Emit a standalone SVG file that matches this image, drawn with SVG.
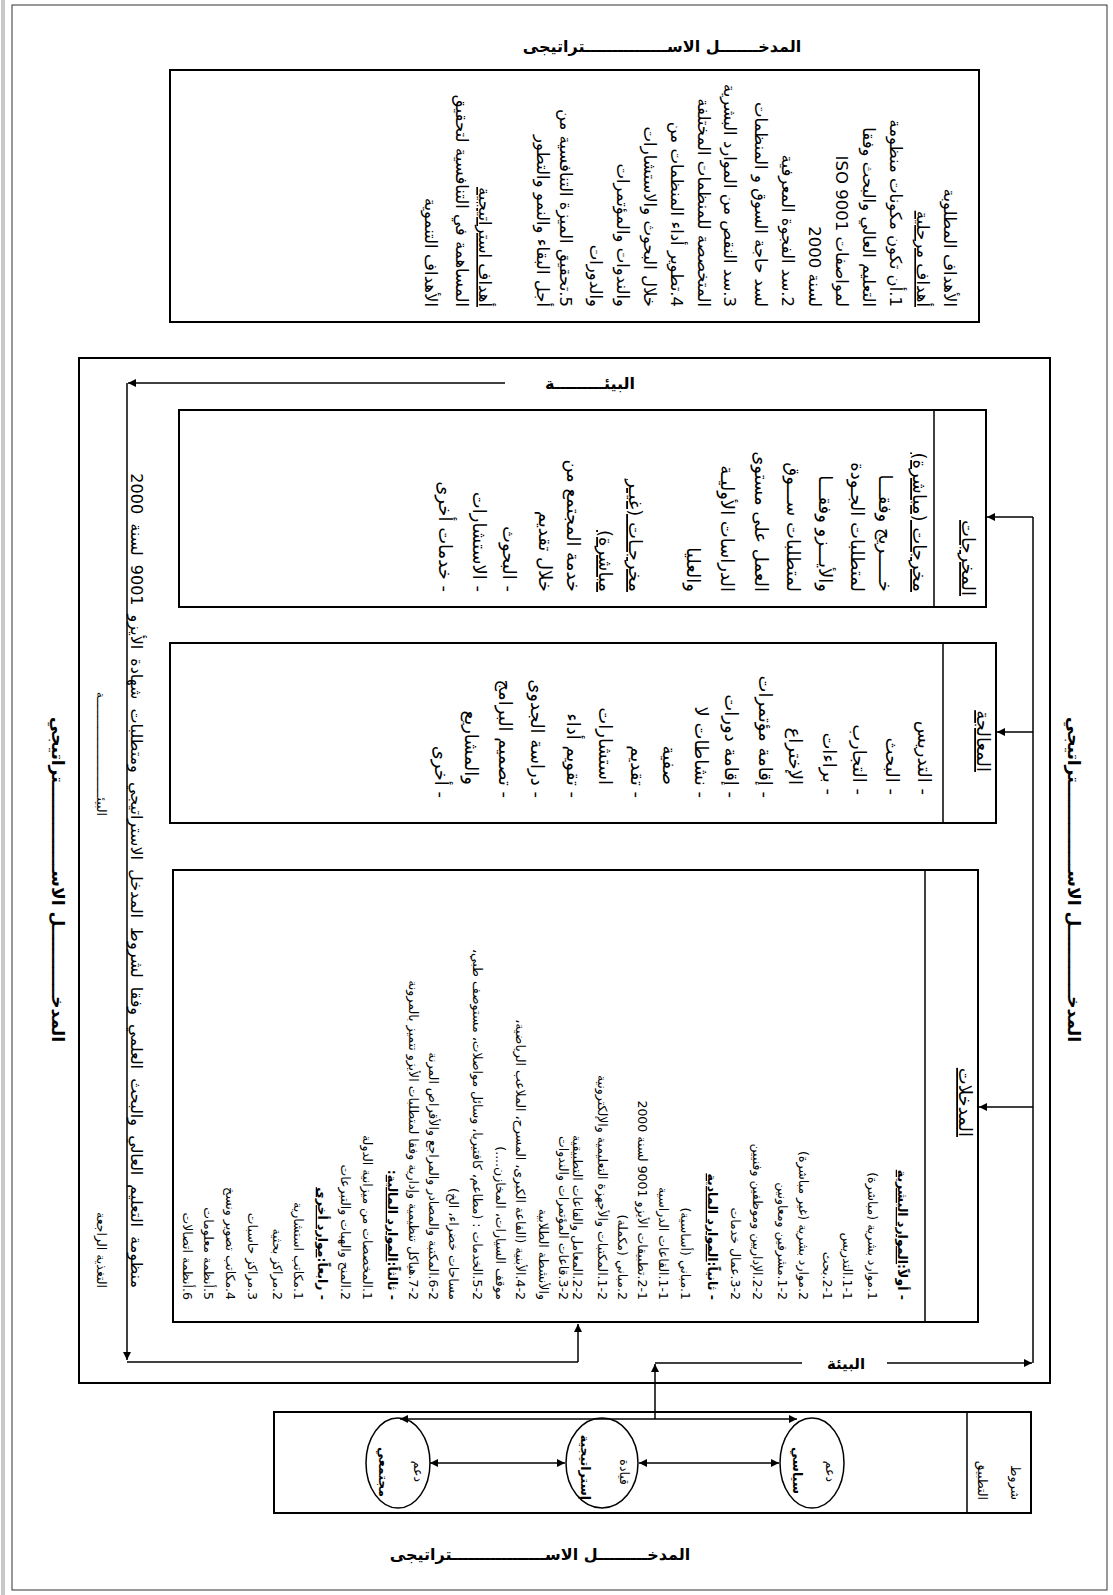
<svg xmlns="http://www.w3.org/2000/svg" width="1113" height="1595" viewBox="0 0 1113 1595">
<style>
text{font-family:"DejaVu Sans","Noto Sans",sans-serif;fill:#000}
.r{direction:rtl;text-anchor:start}
.c{text-anchor:middle}
.f16{font-size:16.5px}
.f18{font-size:18px}
.f13{font-size:12.5px}
.b{font-weight:bold}
.u{text-decoration:underline}
.box{fill:none;stroke:#000;stroke-width:2}
.ln{fill:none;stroke:#000;stroke-width:1.5}
.ar{fill:none;stroke:#000;stroke-width:1.5;marker-end:url(#ah)}
.ar2{fill:none;stroke:#000;stroke-width:1.5;marker-end:url(#ah);marker-start:url(#ah)}
</style>
<defs>
<marker id="ah" viewBox="0 0 10 10" refX="10" refY="5" markerWidth="10" markerHeight="8" markerUnits="userSpaceOnUse" orient="auto-start-reverse"><path d="M0,0 L10,5 L0,10 z" fill="#000"/></marker>
</defs>
<rect x="0" y="0" width="1113" height="1595" fill="#fff"/>
<line x1="3" y1="0" x2="3" y2="1595" stroke="#c8c8c8" stroke-width="4"/>
<rect x="12" y="5" width="1095" height="1585" fill="none" stroke="#333" stroke-width="1"/>

<g id="title-top"><text class="c b" x="662" y="52" font-size="16">المدخـــــــل الاســـــــــــــــتراتيجى</text></g>
<g id="title-bottom"><text class="c b" x="540" y="1560" font-size="16">المدخـــــــــل الاســـــــــــــــــتراتيجى</text></g>

<g id="goals">
<rect class="box" x="170" y="70" width="809" height="252"/>
<g class="f16">
<text class="r" transform="translate(944,307) rotate(90)">الأهداف المطلوبة</text>
<text class="r u" transform="translate(917,307) rotate(90)">أهداف مرحلية</text>
<text class="r" transform="translate(890,307) rotate(90)">1.أن تكون مكونات منظومة</text>
<text class="r" transform="translate(863,307) rotate(90)">التعليم العالي والبحث وفقا</text>
<text class="r" transform="translate(836,307) rotate(90)">لمواصفات ISO 9001</text>
<text class="r" transform="translate(809,307) rotate(90)">لسنة 2000</text>
<text class="r" transform="translate(782,307) rotate(90)">2.سد الفجوة المعرفية</text>
<text class="r" transform="translate(755,307) rotate(90)">لسد حاجة السوق و المنظمات</text>
<text class="r" transform="translate(724,307) rotate(90)">3.سد النقص من الموارد البشرية</text>
<text class="r" transform="translate(698,307) rotate(90)">المتخصصة للمنظمات المختلفة</text>
<text class="r" transform="translate(671,307) rotate(90)">4.تطوير أداء المنظمات من</text>
<text class="r" transform="translate(644,307) rotate(90)">خلال البحوث والاستشارات</text>
<text class="r" transform="translate(617,307) rotate(90)">والندوات والمؤتمرات</text>
<text class="r" transform="translate(590,307) rotate(90)">والدورات</text>
<text class="r" transform="translate(560,307) rotate(90)">5.تحقيق الميزة التنافسية من</text>
<text class="r" transform="translate(537,307) rotate(90)">أجل البقاء والنمو والتطور</text>
<text class="r u" transform="translate(479,307) rotate(90)">أهداف استراتيجية</text>
<text class="r" transform="translate(456,307) rotate(90)">المساهمة في التنافسية لتحقيق</text>
<text class="r" transform="translate(425,307) rotate(90)">الأهداف التنموية</text>
</g>
</g>

<g id="system">
<rect class="box" x="79" y="358" width="971" height="1025"/>
<text class="c b" x="590" y="389" font-size="16">البيئـــــــــة</text>
<text class="c b" x="846" y="1369" font-size="15">البيئة</text>
<text class="r f13" transform="translate(97,816) rotate(90)">البيئـــــــــــــــــــــــــــة</text>
<text class="r f13" transform="translate(97,1288) rotate(90)">التغذية الراجعة</text>
<text class="r" font-size="16" word-spacing="4" transform="translate(131,1288) rotate(90)">منظومة التعليم العالي والبحث العلمي وفقا لشروط المدخل الاستراتيجي ومتطلبات شهادة الأيزو 9001 لسنة 2000</text>
</g>

<g id="outputs">
<rect class="box" x="179" y="410" width="807" height="197"/>
<line class="ln" x1="934" y1="410" x2="934" y2="607"/>
<text class="r f18 u" transform="translate(962,596) rotate(90)">المخرجات</text>
<g class="f18">
<text class="r u" transform="translate(913,592) rotate(90)">مخرجات (مباشرة)</text>
<text class="r" transform="translate(879,592) rotate(90)">خـــــريج وفقـــا</text>
<text class="r" transform="translate(851,592) rotate(90)">لمتطلبات الجـودة</text>
<text class="r" transform="translate(819,592) rotate(90)">والأيـــزو وفقـــا</text>
<text class="r" transform="translate(787,592) rotate(90)">لمتطلبات ســـوق</text>
<text class="r" transform="translate(755,592) rotate(90)">العمل على مستوى</text>
<text class="r" transform="translate(721,592) rotate(90)">الدراسات الأوليـة</text>
<text class="r" transform="translate(687,592) rotate(90)">والعليا</text>
<text class="r u" transform="translate(629,592) rotate(90)">مخرجـات (غيـر</text>
<text class="r u" transform="translate(599,592) rotate(90)">مباشرة)</text>
<text class="r" transform="translate(567,592) rotate(90)">خدمة المجتمع من</text>
<text class="r" transform="translate(539,592) rotate(90)">خلال تقديم</text>
<text class="r" transform="translate(503,592) rotate(90)">- البحوث</text>
<text class="r" transform="translate(473,592) rotate(90)">- الاستشارات</text>
<text class="r" transform="translate(439,592) rotate(90)">- خدمات أخرى</text>
</g>
</g>

<g id="processing">
<rect class="box" x="170" y="643" width="826" height="180"/>
<line class="ln" x1="943" y1="643" x2="943" y2="823"/>
<text class="r f18 u" transform="translate(977,772) rotate(90)">المعالجة</text>
<g class="f18">
<text class="r" transform="translate(918,795) rotate(90)">- التدريس</text>
<text class="r" transform="translate(886,795) rotate(90)">- البحث</text>
<text class="r" transform="translate(853,795) rotate(90)">- التجارب</text>
<text class="r" transform="translate(823,795) rotate(90)">- براءات</text>
<text class="r" transform="translate(789,785) rotate(90)">الإختراع</text>
<text class="r" transform="translate(759,798) rotate(90)">- إقامة مؤتمرات</text>
<text class="r" transform="translate(725,798) rotate(90)">- إقامة دورات</text>
<text class="r" transform="translate(695,798) rotate(90)">- نشاطات لا</text>
<text class="r" transform="translate(663,785) rotate(90)">صفية</text>
<text class="r" transform="translate(631,798) rotate(90)">- تقديم</text>
<text class="r" transform="translate(599,785) rotate(90)">استشارات</text>
<text class="r" transform="translate(567,798) rotate(90)">- تقويم أداء</text>
<text class="r" transform="translate(531,798) rotate(90)">- دراسة الجدوى</text>
<text class="r" transform="translate(499,798) rotate(90)">- تصميم البرامج</text>
<text class="r" transform="translate(465,785) rotate(90)">والمشاريع</text>
<text class="r" transform="translate(435,798) rotate(90)">- أخرى</text>
</g>
</g>

<g id="inputs">
<rect class="box" x="173" y="870" width="805" height="452"/>
<line class="ln" x1="925" y1="870" x2="925" y2="1322"/>
<text class="r f18 u" transform="translate(959,1137) rotate(90)">المدخلات</text>
<g class="f13">
<text class="r b" transform="translate(898,1300) rotate(90)">- أولاً:<tspan class="u">الموارد البشرية</tspan></text>
<text class="r" transform="translate(868,1300) rotate(90)">1.موارد بشرية (مباشرة)</text>
<text class="r" transform="translate(843,1300) rotate(90)">1-1.التدريس</text>
<text class="r" transform="translate(823,1300) rotate(90)">2-1.بحث</text>
<text class="r" transform="translate(799,1300) rotate(90)">2.موارد بشرية (غير مباشرة)</text>
<text class="r" transform="translate(778,1300) rotate(90)">1-2.مشرفين ومعاونين</text>
<text class="r" transform="translate(753,1300) rotate(90)">2-2.الإداريين وموظفين وفنيين</text>
<text class="r" transform="translate(731,1300) rotate(90)">3-2.عمال خدمات</text>
<text class="r b" transform="translate(708,1300) rotate(90)">- ثانياً:<tspan class="u">الموارد المادية</tspan></text>
<text class="r" transform="translate(681,1300) rotate(90)">1.مباني (أساسية)</text>
<text class="r" transform="translate(659,1300) rotate(90)">1-1.القاعات الدراسية</text>
<text class="r" transform="translate(638,1300) rotate(90)">2-1.تطبيقات الأيزو 9001 لسنة 2000</text>
<text class="r" transform="translate(618,1300) rotate(90)">2.مباني (مكملة)</text>
<text class="r" transform="translate(598,1300) rotate(90)">1-2.المكتبات والأجهزة التعليمية والإلكترونية</text>
<text class="r" transform="translate(573,1300) rotate(90)">2-2.المعامل والقاعات التطبيقية</text>
<text class="r" transform="translate(559,1300) rotate(90)">3-2.قاعات المؤتمرات والندوات</text>
<text class="r" transform="translate(539,1300) rotate(90)">والأنشطة الطلابية</text>
<text class="r" transform="translate(516,1300) rotate(90)">4-2.الأبنية (القاعة الكبرى، المسرح، الملاعب الرياضية،</text>
<text class="r" transform="translate(496,1300) rotate(90)">موقف السيارات، المخازن....)</text>
<text class="r" transform="translate(473,1300) rotate(90)">5-2.الخدمات : (مطاعم، كافتيريا، وسائل مواصلات، مستوصف طبي،</text>
<text class="r" transform="translate(449,1300) rotate(90)">مساحات خضراء، الخ)</text>
<text class="r" transform="translate(429,1300) rotate(90)">6-2.المكتبة والمصادر والمراجع والأقراص المرنة</text>
<text class="r" transform="translate(409,1300) rotate(90)">7-2.هياكل تنظيمية وإدارية وفقا لمتطلبات الأيزو تتميز بالمرونة</text>
<text class="r b" transform="translate(388,1300) rotate(90)">- ثالثاً:<tspan class="u">الموارد المالية</tspan>:</text>
<text class="r" transform="translate(363,1300) rotate(90)">1.المخصصات من ميزانية الدولة</text>
<text class="r" transform="translate(341,1300) rotate(90)">2.المنح والهبات والتبرعات</text>
<text class="r b" transform="translate(318,1300) rotate(90)">- رابعاً:<tspan class="u">موارد أخرى</tspan></text>
<text class="r" transform="translate(294,1300) rotate(90)">1.مكاتب استشارية</text>
<text class="r" transform="translate(273,1300) rotate(90)">2.مراكز بحثية</text>
<text class="r" transform="translate(248,1300) rotate(90)">3.مراكز حاسبات</text>
<text class="r" transform="translate(226,1300) rotate(90)">4.مكاتب تصوير ونسخ</text>
<text class="r" transform="translate(204,1300) rotate(90)">5.أنظمة معلومات</text>
<text class="r" transform="translate(183,1300) rotate(90)">6.أنظمة اتصالات</text>
</g>
</g>

<g id="conditions">
<rect class="box" x="274" y="1412" width="757" height="101"/>
<line class="ln" x1="967" y1="1412" x2="967" y2="1513"/>
<text class="r f13" transform="translate(1011,1500) rotate(90)">شروط</text>
<text class="r f13" transform="translate(978,1500) rotate(90)">التطبيق</text>
</g>
<g id="political">
<ellipse cx="812" cy="1463" rx="32" ry="45" fill="none" stroke="#000" stroke-width="1.5"/>
<text class="r f13" transform="translate(826,1482) rotate(90)">دعم</text>
<text class="r f13 b" transform="translate(793,1494) rotate(90)">سياسي</text>
</g>
<g id="leadership">
<ellipse cx="602" cy="1463" rx="36" ry="45" fill="none" stroke="#000" stroke-width="1.5"/>
<text class="r f13" transform="translate(620,1485) rotate(90)">قيادة</text>
<text class="r f13 b" transform="translate(581,1500) rotate(90)">إستراتيجية</text>
</g>
<g id="community">
<ellipse cx="398" cy="1463" rx="32" ry="45" fill="none" stroke="#000" stroke-width="1.5"/>
<text class="r f13" transform="translate(414,1482) rotate(90)">دعم</text>
<text class="r f13 b" transform="translate(379,1497) rotate(90)">مجتمعي</text>
</g>

<g id="side-labels">
<text class="r b" font-size="17" transform="translate(52,1042) rotate(90)">المدخــــــــــــل الاســـــــــــــــتراتيجي</text>
<text class="r b" font-size="17" transform="translate(1068,1042) rotate(90)">المدخــــــــــــل الاســـــــــــــــتراتيجي</text>
</g>

<g id="connectors">
<line class="ar" x1="505" y1="383" x2="128" y2="383"/>
<line class="ar" x1="127" y1="383" x2="127" y2="1360"/>
<polyline class="ln" points="127,1362 578,1362"/>
<line class="ar" x1="578" y1="1362" x2="578" y2="1324"/>
<line class="ar" x1="655" y1="1419" x2="655" y2="1364"/>
<line class="ln" x1="655" y1="1363" x2="802" y2="1363"/>
<line class="ar" x1="887" y1="1363" x2="1032" y2="1363"/>
<line class="ln" x1="1033" y1="1363" x2="1033" y2="517"/>
<line class="ar" x1="1033" y1="517" x2="987" y2="517"/>
<line class="ar" x1="1033" y1="732" x2="997" y2="732"/>
<line class="ar" x1="1033" y1="1107" x2="979" y2="1107"/>
<line class="ar2" x1="400" y1="1419" x2="797" y2="1419"/>
<line class="ar2" x1="430" y1="1463" x2="565" y2="1463"/>
<line class="ar2" x1="639" y1="1463" x2="779" y2="1463"/>
</g>
</svg>
